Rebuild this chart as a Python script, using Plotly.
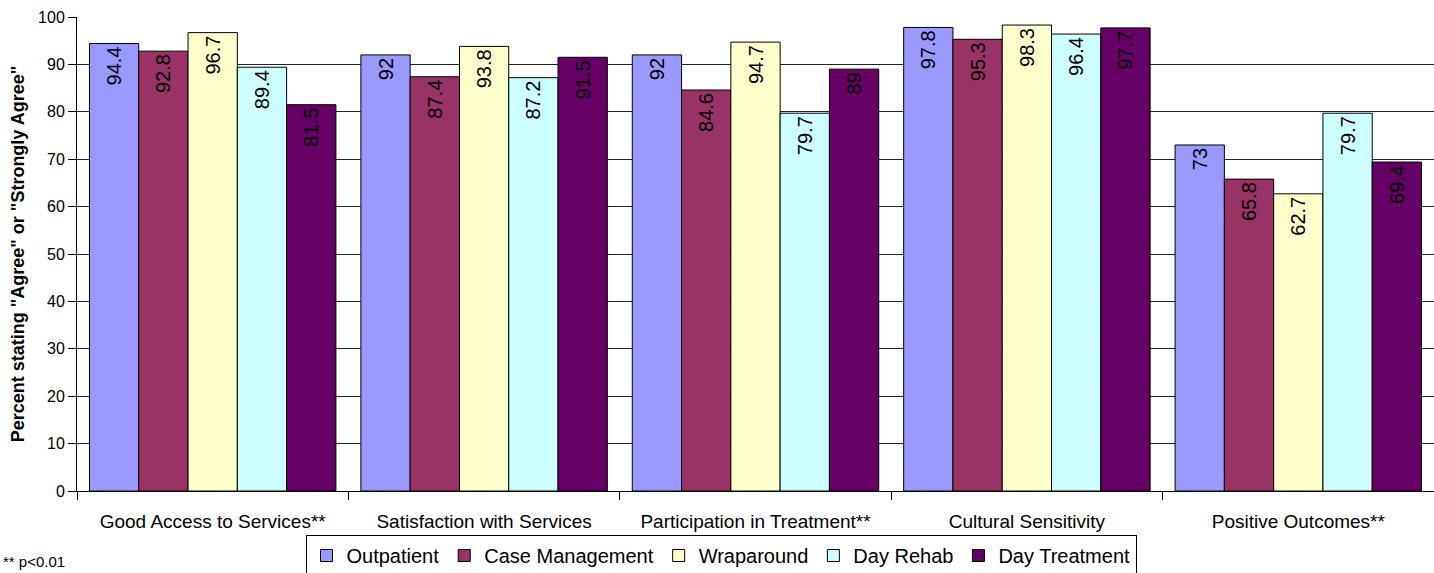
import plotly.graph_objects as go

# Survey domains (x categories) and percent agreeing per service type
domains = [
    "Good Access to Services**",
    "Satisfaction with Services",
    "Participation in Treatment**",
    "Cultural Sensitivity",
    "Positive Outcomes**",
]
services = ["Outpatient", "Case Management", "Wraparound", "Day Rehab", "Day Treatment"]

outpatient = [94.4, 92, 92, 97.8, 73]
case_management = [92.8, 87.4, 84.6, 95.3, 65.8]
wraparound = [96.7, 93.8, 94.7, 98.3, 62.7]
day_rehab = [89.4, 87.2, 79.7, 96.4, 79.7]
day_treatment = [81.5, 91.5, 89, 97.7, 69.4]

series_values = [outpatient, case_management, wraparound, day_rehab, day_treatment]
colors = ["#9999FF", "#993366", "#FFFFCC", "#CCFFFF", "#660066"]

W, H = 1434, 573
M_L, M_R, M_T, M_B = 77, 0, 17, 82
plot_w = W - M_L - M_R
plot_h = H - M_T - M_B
y_bottom = M_T + plot_h  # pixel row of the x axis

FONT = "Liberation Sans, Arial, sans-serif"

fig = go.Figure()
for name, vals, col in zip(services, series_values, colors):
    fig.add_trace(go.Bar(
        name=name,
        x=domains,
        y=vals,
        marker=dict(color=col, line=dict(color="#000000", width=1)),
        text=[str(v) for v in vals],
        texttemplate="%{text}",
        textposition="inside",
        insidetextanchor="end",
        textangle=-90,
        textfont=dict(family=FONT, size=20, color="#000000"),
        constraintext="none",
        hoverinfo="skip",
    ))

fig.update_layout(
    width=W, height=H,
    barmode="group",
    bargap=0.092,
    bargroupgap=0,
    paper_bgcolor="#FFFFFF",
    plot_bgcolor="#FFFFFF",
    margin=dict(l=M_L, r=M_R, t=M_T, b=M_B, pad=0, autoexpand=False),
    font=dict(family=FONT, color="#000000"),
    showlegend=True,
    legend=dict(
        orientation="h",
        x=(721 - M_L) / plot_w, xanchor="center",
        y=-(535 - y_bottom) / plot_h, yanchor="top",
        bordercolor="#000000", borderwidth=1,
        bgcolor="#FFFFFF",
        font=dict(family=FONT, size=20, color="#000000"),
        itemwidth=30,
        traceorder="normal",
    ),
    xaxis=dict(
        type="category",
        automargin=False,
        showline=True, linecolor="#000000", linewidth=1,
        ticks="outside", tickson="boundaries", ticklen=8, tickcolor="#000000",
        tickfont=dict(family=FONT, size=19, color="#000000"),
        ticklabelstandoff=13,
        showgrid=False,
        fixedrange=True,
    ),
    yaxis=dict(
        range=[0, 100],
        dtick=10,
        automargin=False,
        showline=True, linecolor="#000000", linewidth=1,
        ticks="outside", ticklen=8, tickcolor="#000000",
        tickfont=dict(family=FONT, size=16, color="#000000"),
        showgrid=True, gridcolor="#222222", gridwidth=1,
        zeroline=False,
        title=dict(
            text='Percent stating "Agree" or "Strongly Agree"',
            font=dict(family=FONT, size=18, color="#000000", weight="bold"),
            standoff=8,
        ),
        fixedrange=True,
    ),
)

fig.add_annotation(
    text="** p<0.01",
    xref="paper", yref="paper",
    x=-(M_L - 1) / plot_w, xanchor="left",
    y=-(561 - y_bottom) / plot_h, yanchor="middle",
    showarrow=False,
    font=dict(family=FONT, size=15, color="#000000"),
)

fig.write_html("out.html")
